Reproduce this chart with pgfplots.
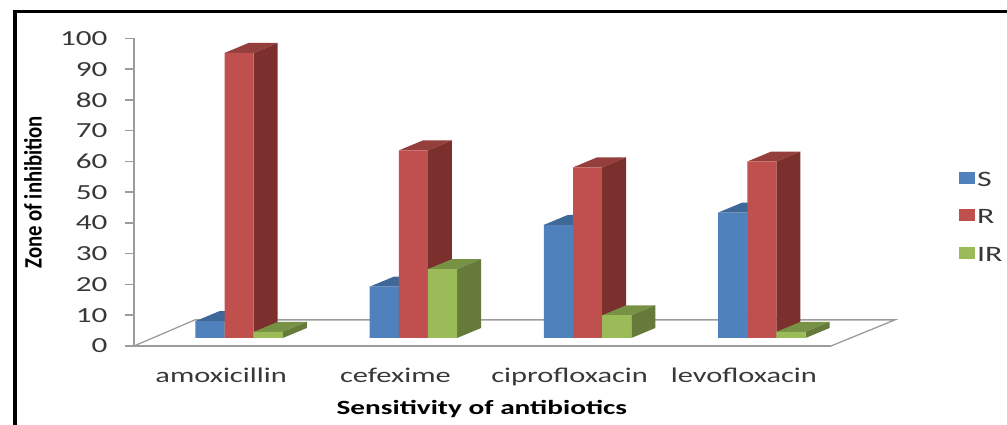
\documentclass[border=0pt]{standalone}
\usepackage{fontspec}
\setmainfont[FakeStretch=1.45]{Carlito}
\newfontfamily\ylabfont[FakeStretch=0.83]{Carlito}
\usepackage{pgfplots}
\pgfplotsset{compat=1.18}
\definecolor{cS}{HTML}{4F81BD}\definecolor{cR}{HTML}{C0504D}\definecolor{cI}{HTML}{9BBB59}
\definecolor{tS}{HTML}{3F6797}\definecolor{tR}{HTML}{943F3C}\definecolor{tI}{HTML}{779145}
\definecolor{sS}{HTML}{365A84}\definecolor{sR}{HTML}{7B302E}\definecolor{sI}{HTML}{667A3A}
\definecolor{axgray}{HTML}{9C9C9C}
% x: 174.25 px per category, bar 29.1 px, group offset 18 px, depth 24 px x 10 px
\def\bw{0.167}\def\ox{0.1033}\def\dx{0.138}\def\dy{3.25}\def\base{2.6}
\newcommand\faces[5]{% category, slot, value, top colour, side colour
  \addplot[fill=#4,draw=none,forget plot] coordinates {
    (#1+\ox+#2*\bw-\bw/2,\base+#3) (#1+\ox+#2*\bw+\bw/2,\base+#3)
    (#1+\ox+#2*\bw+\bw/2+\dx,\base+#3+\dy) (#1+\ox+#2*\bw-\bw/2+\dx,\base+#3+\dy)} --cycle;
  \addplot[fill=#5,draw=none,forget plot] coordinates {
    (#1+\ox+#2*\bw+\bw/2,\base) (#1+\ox+#2*\bw+\bw/2+\dx,\base+\dy)
    (#1+\ox+#2*\bw+\bw/2+\dx,\base+#3+\dy) (#1+\ox+#2*\bw+\bw/2,\base+#3)} --cycle;
}
\begin{document}
\begin{tikzpicture}
\useasboundingbox (0pt,0pt) rectangle (1007pt,425pt);
\draw[line width=3.4pt,black] (15pt,0pt) -- (15pt,413.5pt) -- (1007pt,413.5pt);
\begin{axis}[
  at={(134pt,79pt)},anchor=south west,scale only axis,width=697pt,height=307.5pt,
  xmin=-0.5,xmax=3.5,ymin=0,ymax=100,clip=false,
  axis x line*=bottom,axis y line*=left,
  axis line style={axgray,line width=2pt},
  xtick={0,1,2,3},xticklabels={amoxicillin,cefexime,ciprofloxacin,levofloxacin},
  ytick={0,10,...,100},
  /pgf/number format/assume math mode=true,
  tick align=outside,major tick length=9pt,
  ytick style={axgray,line width=1.5pt},xtick style={draw=none},
  ticklabel style={text=black!78},
  yticklabel style={font=\fontsize{21.5}{25}\selectfont,xshift=-14pt},
  xticklabel style={font=\fontsize{21}{25}\selectfont,yshift=-9.5pt},
  xlabel={\bfseries Sensitivity of antibiotics},
  xlabel style={font=\fontsize{20.2}{24}\selectfont,at={(axis description cs:0.499,-0.205)},anchor=center},
  ylabel={\ylabfont\bfseries Zone of inhibition},
  ylabel style={font=\fontsize{25}{29}\selectfont,at={(axis description cs:-0.145,0.5)},anchor=center,rotate=0},
  legend style={draw=none,fill=none,at={(1,0.5)},anchor=west,xshift=125pt,yshift=-25pt,
    font=\fontsize{22}{26}\selectfont,row sep=18pt,text=black!78,
    /tikz/every even column/.append style={column sep=14pt}},
  legend cell align=left,
  legend image code/.code={\fill[#1] (0pt,-12pt) rectangle (16pt,0pt);},
]
\addplot[axgray,line width=1.3pt,forget plot] coordinates {(-0.5,0) (-0.15,8.5) (3.867,8.5) (3.5,0)};
% S
\faces{0}{-1}{5.5}{tS}{sS}\faces{1}{-1}{16.7}{tS}{sS}\faces{2}{-1}{36.8}{tS}{sS}\faces{3}{-1}{40.8}{tS}{sS}
\addplot[ybar,fill=cS,draw=none,bar width=29.1pt,bar shift=-11.1pt,yshift=8pt] coordinates {(0,5.5) (1,16.7) (2,36.8) (3,40.8)};
\addlegendentry{S}
% R
\faces{0}{0}{92.7}{tR}{sR}\faces{1}{0}{61}{tR}{sR}\faces{2}{0}{55.5}{tR}{sR}\faces{3}{0}{57.4}{tR}{sR}
\addplot[ybar,fill=cR,draw=none,bar width=29.1pt,bar shift=18pt,yshift=8pt] coordinates {(0,92.7) (1,61) (2,55.5) (3,57.4)};
\addlegendentry{R}
% IR
\faces{0}{1}{2}{tI}{sI}\faces{1}{1}{22.4}{tI}{sI}\faces{2}{1}{7.4}{tI}{sI}\faces{3}{1}{2}{tI}{sI}
\addplot[ybar,fill=cI,draw=none,bar width=29.1pt,bar shift=47.1pt,yshift=8pt] coordinates {(0,2) (1,22.4) (2,7.4) (3,2)};
\addlegendentry{IR}
\end{axis}
\end{tikzpicture}
\end{document}
